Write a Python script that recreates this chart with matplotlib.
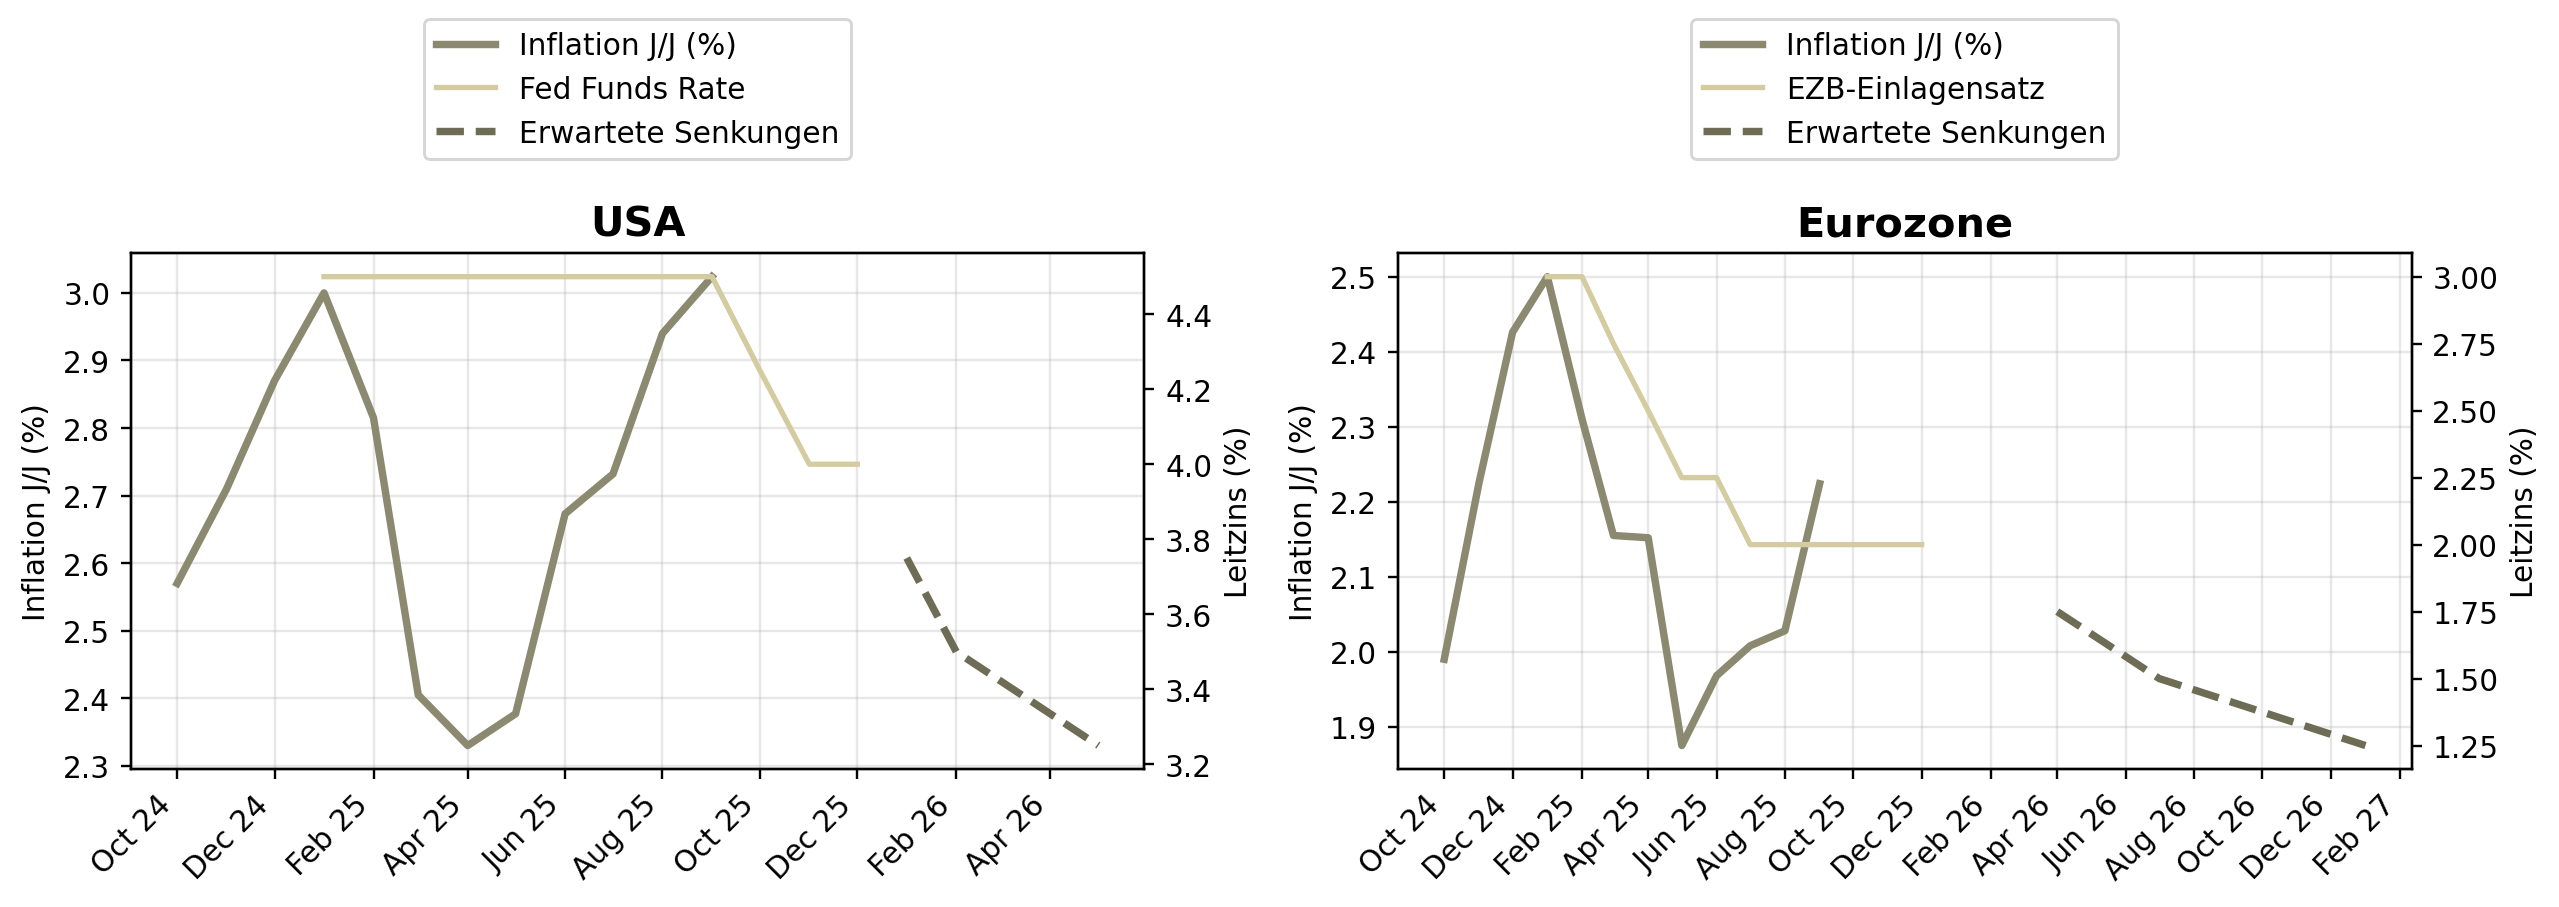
import matplotlib
matplotlib.use('Agg')
import matplotlib.pyplot as plt
import matplotlib.dates as mdates
import pandas as pd

# USA
usa_infl_months = pd.date_range('2024-10-01', '2025-09-01', freq='MS')
usa_infl = [2.57, 2.71, 2.87, 3.00, 2.815, 2.405, 2.33, 2.377, 2.673, 2.732, 2.94, 3.024]
usa_rate_months = pd.date_range('2025-01-01', '2025-12-01', freq='MS')
usa_rate = [4.5, 4.5, 4.5, 4.5, 4.5, 4.5, 4.5, 4.5, 4.5, 4.25, 4.0, 4.0]
usa_exp_months = pd.to_datetime(['2026-01-01', '2026-02-01', '2026-05-01'])
usa_exp = [3.75, 3.5, 3.25]

# Eurozone
ez_infl_months = pd.date_range('2024-10-01', '2025-09-01', freq='MS')
ez_infl = [1.99, 2.225, 2.426, 2.50, 2.31, 2.155, 2.152, 1.875, 1.968, 2.008, 2.028, 2.224]
ez_rate_months = pd.date_range('2025-01-01', '2025-12-01', freq='MS')
ez_rate = [3.0, 3.0, 2.75, 2.5, 2.25, 2.25, 2.0, 2.0, 2.0, 2.0, 2.0, 2.0]
ez_exp_months = pd.to_datetime(['2026-04-01', '2026-07-01', '2027-01-01'])
ez_exp = [1.75, 1.5, 1.25]

c_infl = '#8b8970'
c_rate = '#d4cca0'
c_exp = '#6e6c55'

fig, axes = plt.subplots(1, 2, figsize=(12, 4.25625), dpi=213.333)
fig.subplots_adjust(left=0.0512, right=0.942, bottom=0.152, top=0.720, wspace=0.2504)

panels = [
    (axes[0], 'USA', 'Fed Funds Rate', usa_infl_months, usa_infl, usa_rate_months, usa_rate, usa_exp_months, usa_exp),
    (axes[1], 'Eurozone', 'EZB-Einlagensatz', ez_infl_months, ez_infl, ez_rate_months, ez_rate, ez_exp_months, ez_exp),
]

for ax, title, rate_label, im, iv, rm, rv, em, ev in panels:
    l1, = ax.plot(im, iv, color=c_infl, lw=2.5, label='Inflation J/J (%)')
    ax.set_ylabel('Inflation J/J (%)')
    ax.grid(True, alpha=0.3)
    ax2 = ax.twinx()
    l2, = ax2.plot(rm, rv, color=c_rate, lw=1.8, label=rate_label)
    l3, = ax2.plot(em, ev, color=c_exp, lw=2.5, ls='--', label='Erwartete Senkungen')
    ax2.set_ylabel('Leitzins (%)')
    ax.set_title(title, fontsize=14, fontweight='bold')
    ax.xaxis.set_major_locator(mdates.MonthLocator(bymonth=[2, 4, 6, 8, 10, 12]))
    ax.xaxis.set_major_formatter(mdates.DateFormatter('%b %y'))
    plt.setp(ax.get_xticklabels(), rotation=45, ha='right')
    ax.legend(handles=[l1, l2, l3], loc='lower center', bbox_to_anchor=(0.5, 1.182), borderaxespad=0)

plt.savefig('out.png', dpi=213.333)
